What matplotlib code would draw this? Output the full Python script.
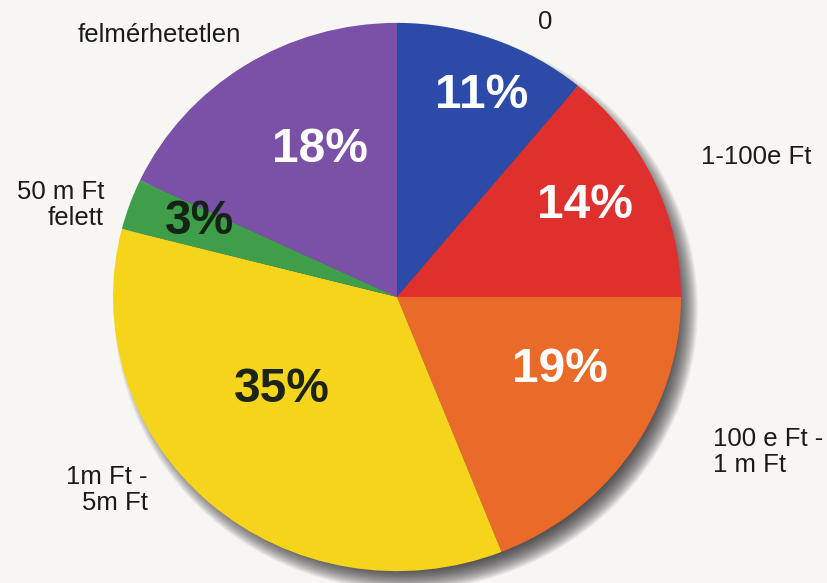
import numpy as np
import matplotlib.pyplot as plt
from matplotlib.patches import Ellipse

# income brackets and their shares (%)
categories = ['0', '1-100e Ft', '100 e Ft -\n1 m Ft', '1m Ft -\n5m Ft', '50 m Ft\nfelett', 'felmérhetetlen']
shares = [11, 14, 19, 35, 3, 18]
colors = ['#2c4aa8', '#e0302e', '#ea6a2a', '#f5d51c', '#3e9e4a', '#7b51a8']
pct_colors = ['white', 'white', 'white', '#1c2418', '#142414', 'white']

W, H = 828, 583
YSPAN = 604.0  # slightly squashed vertically


def pt(x, y):
    # pixel position (origin top-left) -> data coords
    return x, (H - y) * YSPAN / H


fig = plt.figure(figsize=(W / 100, H / 100), dpi=100)
fig.patch.set_facecolor('#f8f6f3')
ax = fig.add_axes([0, 0, 1, 1])

cx, cy = pt(397, 297)
R = 284

# soft drop shadow, built from stacked translucent discs
for i in range(28):
    r = R + 8 - i * 0.8
    ax.add_patch(Ellipse((cx + 9, cy - 12), 2 * r, 2 * r,
                         facecolor='#1e1e1e', edgecolor='none', alpha=0.045, zorder=1))

wedges, _ = ax.pie(shares, colors=colors, startangle=90, counterclock=False,
                   center=(cx, cy), radius=R, frame=True,
                   wedgeprops=dict(linewidth=0))
for w in wedges:
    w.set_zorder(3)

ax.set_aspect('auto')
ax.set_xlim(0, W)
ax.set_ylim(0, YSPAN)
ax.axis('off')

# percentage labels inside the slices
pct_pos = [(482, 96), (585, 205), (560, 370), (282, 390), (200, 222), (320, 150)]
for v, c, (x, y) in zip(shares, pct_colors, pct_pos):
    ax.text(*pt(x, y), f'{v}%', color=c, fontsize=34.5, fontweight='bold',
            family='Liberation Sans', ha='center', va='center', zorder=5)

# category names around the pie
lab_pos = [(545, 22, 'center'), (701, 157, 'left'), (713, 452, 'left'),
           (148, 490, 'right'), (104, 205, 'right'), (159, 35, 'center')]
for name, (x, y, ha) in zip(categories, lab_pos):
    ax.text(*pt(x, y), name, color='#1a1a1a', fontsize=18.5, family='Liberation Sans',
            ha=ha, va='center', multialignment=ha, linespacing=1.15, zorder=5)

plt.savefig('out.png', dpi=100, facecolor=fig.get_facecolor())
